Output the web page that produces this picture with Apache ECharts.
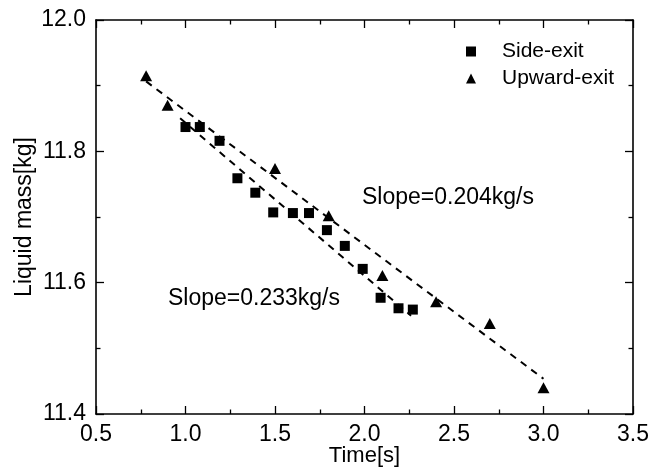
<!DOCTYPE html>
<html>
<head>
<meta charset="utf-8">
<script src="https://cdn.jsdelivr.net/npm/echarts@6/dist/echarts.min.js"></script>
<style>
  html, body { margin: 0; padding: 0; background: #fff; }
  #chart { width: 665px; height: 468px; }
</style>
</head>
<body>
<div id="chart"></div>
<script>
// Liquid mass against time for the two exit configurations
const seriesNames = ['Side-exit', 'Upward-exit'];

const sideTime = [1.00, 1.08, 1.19, 1.29, 1.39, 1.49, 1.60, 1.69, 1.79, 1.89, 1.99, 2.09, 2.19, 2.27];
const sideMass = [11.837, 11.837, 11.816, 11.759, 11.737, 11.707, 11.706, 11.706, 11.680, 11.656, 11.621, 11.577, 11.561, 11.559];

const upTime = [0.78, 0.90, 1.50, 1.80, 2.10, 2.40, 2.70, 3.00];
const upMass = [11.915, 11.870, 11.774, 11.702, 11.611, 11.571, 11.538, 11.440];

// Linear fits: stated discharge rate (kg/s), a point the fit passes through, and its time span
const fitSlopes = [0.233, 0.204];
const fitAnchorTime = [1.615, 1.90];
const fitAnchorMass = [11.700, 11.678];
const fitStartTime = [0.97, 0.78];
const fitEndTime = [2.26, 3.00];

const xTicks = ['0.5', '1.0', '1.5', '2.0', '2.5', '3.0', '3.5'];
const yTicks = ['11.4', '11.6', '11.8', '12.0'];

const pairs = (xs, ys) => xs.map((x, i) => [x, ys[i]]);
const fitLine = i => [fitStartTime[i], fitEndTime[i]].map(t =>
  [t, fitAnchorMass[i] - fitSlopes[i] * (t - fitAnchorTime[i])]);

const FONT = 'Liberation Sans, Arial, sans-serif';
const BLACK = '#000';

const frameAxis = (extra) => Object.assign({
  type: 'value',
  axisLine: { show: true, onZero: false, lineStyle: { color: BLACK, width: 1.6 } },
  axisTick: { show: true, inside: true, length: 8, lineStyle: { color: BLACK, width: 1.3 } },
  minorTick: { show: true, splitNumber: 2, length: 4.5, lineStyle: { color: BLACK, width: 1.3 } },
  splitLine: { show: false },
  minorSplitLine: { show: false }
}, extra);

const xBase = { min: Number(xTicks[0]), max: Number(xTicks[xTicks.length - 1]), interval: 0.5 };
const yBase = { min: Number(yTicks[0]), max: Number(yTicks[yTicks.length - 1]), interval: 0.2 };

const chart = echarts.init(document.getElementById('chart'), null, { renderer: 'canvas' });

chart.setOption({
  backgroundColor: '#fff',
  animation: false,
  textStyle: { fontFamily: FONT, color: BLACK },
  grid: { left: 96, top: 20, right: 32, bottom: 54, containLabel: false, outerBoundsMode: 'none' },
  legend: {
    orient: 'vertical',
    left: 466,
    top: 41,
    padding: 0,
    itemWidth: 10,
    itemHeight: 10,
    itemGap: 6,
    data: seriesNames,
    textStyle: { fontSize: 21, lineHeight: 21, color: BLACK, fontFamily: FONT, padding: [0, 0, 0, 21] }
  },
  xAxis: [
    frameAxis(Object.assign({}, xBase, {
      position: 'bottom',
      name: 'Time[s]',
      nameLocation: 'middle',
      nameGap: 31,
      nameMoveOverlap: false,
      nameTextStyle: { fontSize: 22, color: BLACK, fontFamily: FONT },
      axisLabel: { show: true, margin: 9, fontSize: 23, color: BLACK, fontFamily: FONT,
        formatter: v => v.toFixed(1) }
    })),
    frameAxis(Object.assign({}, xBase, { position: 'top', axisLabel: { show: false } }))
  ],
  yAxis: [
    frameAxis(Object.assign({}, yBase, {
      position: 'left',
      name: 'Liquid mass[kg]',
      nameLocation: 'middle',
      nameGap: 60,
      nameMoveOverlap: false,
      nameTextStyle: { fontSize: 23, color: BLACK, fontFamily: FONT },
      axisLabel: { show: true, margin: 10, fontSize: 23, color: BLACK, fontFamily: FONT,
        formatter: v => v.toFixed(1) }
    })),
    frameAxis(Object.assign({}, yBase, { position: 'right', axisLabel: { show: false } }))
  ],
  graphic: [
    {
      type: 'text', left: 362, top: 186, z: 10,
      style: { text: 'Slope=' + fitSlopes[1].toFixed(3) + 'kg/s', fontSize: 23, fontFamily: FONT, fill: BLACK }
    },
    {
      type: 'text', left: 168, top: 287, z: 10,
      style: { text: 'Slope=' + fitSlopes[0].toFixed(3) + 'kg/s', fontSize: 23, fontFamily: FONT, fill: BLACK }
    }
  ],
  series: [
    {
      name: seriesNames[0], type: 'scatter', symbol: 'rect', symbolSize: 10,
      itemStyle: { color: BLACK, opacity: 1 }, z: 5,
      data: pairs(sideTime, sideMass)
    },
    {
      name: seriesNames[1], type: 'scatter', symbol: 'triangle', symbolSize: [12, 11],
      itemStyle: { color: BLACK, opacity: 1 }, z: 5,
      data: pairs(upTime, upMass)
    },
    {
      name: 'fit-side', type: 'line', showSymbol: false, symbol: 'none', z: 3,
      lineStyle: { color: BLACK, width: 2, type: [7, 6] },
      data: fitLine(0)
    },
    {
      name: 'fit-up', type: 'line', showSymbol: false, symbol: 'none', z: 3,
      lineStyle: { color: BLACK, width: 2, type: [7, 6] },
      data: fitLine(1)
    }
  ]
});
</script>
</body>
</html>
